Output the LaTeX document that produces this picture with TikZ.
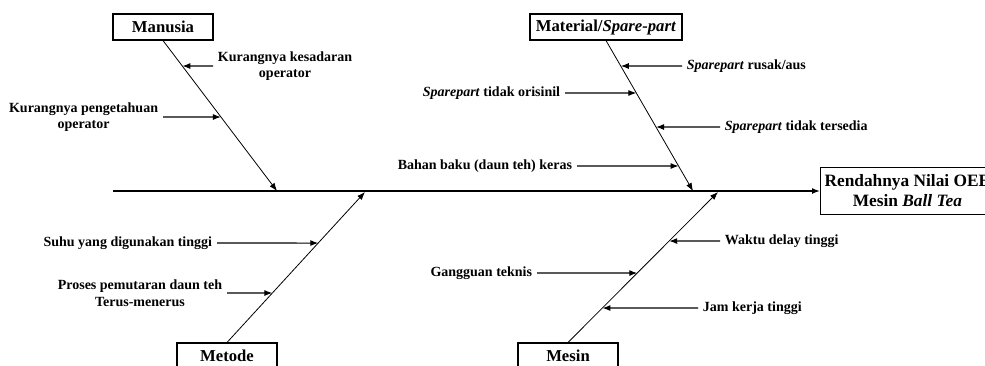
\documentclass[tikz,border=0pt]{standalone}
\usepackage{fontspec}
\setmainfont{Liberation Serif}
\usetikzlibrary{arrows.meta, positioning}

\begin{document}
\begin{tikzpicture}[x=0.75pt, y=-0.75pt,
    cat/.style={draw, thick, fill=white, font=\fontsize{12.5}{15}\selectfont\bfseries,
      minimum width=75pt, minimum height=19.5pt, inner sep=2pt},
    cause/.style={font=\fontsize{10.5}{12.5}\selectfont\bfseries, align=center, inner sep=3.5pt},
    spine/.style={line width=1.1pt, -{Latex[length=6pt,width=4.5pt]}},
    bone/.style={line width=0.6pt, -{Latex[length=6pt,width=4.5pt]}},
    sub/.style={line width=0.8pt, -{Latex[length=6pt,width=4.5pt]}}]
      \clip (0,0) rectangle (985,365);

      % head and spine
      \coordinate (tail) at (113,191);
      \node[cat, anchor=west, align=center, minimum width=124.5pt, minimum height=35pt,
        inner sep=3pt, font=\fontsize{13}{15}\selectfont\bfseries] (effect) at (820,191)
        {Rendahnya Nilai OEE\\Mesin \textit{Ball Tea}};
      \draw[spine] (tail) -- (effect.west);

      % bone ends on the spine
      \coordinate (m0) at (277,191);
      \coordinate (s0) at (693,191);
      \coordinate (d0) at (365,192);
      \coordinate (e0) at (718,192);

      % categories
      \node[cat] (manusia) at (163,27) {Manusia};
      \node[cat, minimum width=114pt] (material) at (606,27) {Material/\textit{Spare-part}};
      \node[cat] (metode) at (227,356) {Metode};
      \node[cat] (mesin) at (568,356) {Mesin};

      \draw[bone] (manusia.south) -- (m0);
      \draw[bone] (material.south) -- (s0);
      \draw[bone] (metode.north) -- (d0);
      \draw[bone] (mesin.north) -- (e0);

      % Manusia
      \node[cause, anchor=west] (c1) at (213,66) {Kurangnya kesadaran\\operator};
      \node[cause, anchor=east] (c2) at (163,117) {Kurangnya pengetahuan\\operator};
      \draw[sub] (c1.west) -- (intersection of manusia.south--m0 and c1.west--c1.east);
      \draw[sub] (c2.east) -- (intersection of manusia.south--m0 and c2.west--c2.east);

      % Material/Spare-part
      \node[cause, anchor=west] (c3) at (682,66) {\textit{Sparepart} rusak/aus};
      \node[cause, anchor=east] (c4) at (565,93) {\textit{Sparepart} tidak orisinil};
      \node[cause, anchor=west] (c5) at (720,127) {\textit{Sparepart} tidak tersedia};
      \node[cause, anchor=east] (c6) at (577,166) {Bahan baku (daun teh) keras};
      \draw[sub] (c3.west) -- (intersection of material.south--s0 and c3.west--c3.east);
      \draw[sub] (c4.east) -- (intersection of material.south--s0 and c4.west--c4.east);
      \draw[sub] (c5.west) -- (intersection of material.south--s0 and c5.west--c5.east);
      \draw[sub] (c6.east) -- (intersection of material.south--s0 and c6.west--c6.east);

      % Metode
      \node[cause, anchor=east] (c7) at (217,243) {Suhu yang digunakan tinggi};
      \node[cause, anchor=east] (c8) at (227,293) {Proses pemutaran daun teh\\Terus-menerus};
      \draw[sub] (c7.east) -- (intersection of metode.north--d0 and c7.west--c7.east);
      \draw[sub] (c8.east) -- (intersection of metode.north--d0 and c8.west--c8.east);

      % Mesin
      \node[cause, anchor=west] (c9) at (720,241) {Waktu delay tinggi};
      \node[cause, anchor=east] (c10) at (537,273) {Gangguan teknis};
      \node[cause, anchor=west] (c11) at (698,308) {Jam kerja tinggi};
      \draw[sub] (c9.west) -- (intersection of mesin.north--e0 and c9.west--c9.east);
      \draw[sub] (c10.east) -- (intersection of mesin.north--e0 and c10.west--c10.east);
      \draw[sub] (c11.west) -- (intersection of mesin.north--e0 and c11.west--c11.east);
\end{tikzpicture}
\end{document}
